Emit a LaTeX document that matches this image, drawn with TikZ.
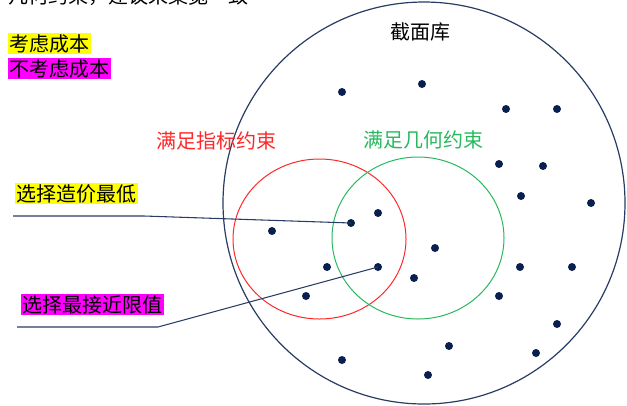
\documentclass[tikz,border=0pt]{standalone}
\usepackage{fontspec}
\setmainfont{Noto Sans CJK SC}
\usepackage{tikz}

\definecolor{navy}{RGB}{40,60,100}
\definecolor{dotblue}{RGB}{8,32,80}
\definecolor{consred}{RGB}{255,40,40}
\definecolor{consgreen}{RGB}{40,185,95}
\definecolor{hlyellow}{RGB}{255,255,0}
\definecolor{hlmagenta}{RGB}{255,0,255}

\begin{document}
\begin{tikzpicture}[x=0.75pt,y=0.75pt,yscale=-1,xscale=1,
  dot/.style={circle,fill=dotblue,inner sep=0pt,minimum size=6pt},
  lbl/.style={inner sep=0.9pt,font=\fontsize{15}{18}\selectfont},
  leader/.style={draw=navy,line width=0.8pt}]
\useasboundingbox (0,0) rectangle (627,405);

%Shape: Circle [library]
\draw [navy,line width=0.9pt] (424,203) ellipse [x radius=201,y radius=201];
%Shape: Ellipse [index constraint]
\draw [consred,line width=0.75pt] (319.5,239) ellipse [x radius=86.5,y radius=80];
%Shape: Ellipse [geometry constraint]
\draw [consgreen,line width=0.75pt] (418,238) ellipse [x radius=86,y radius=81];

%Dots
\node [dot] (d1) at (342,92) {};
\node [dot] (d2) at (422,84) {};
\node [dot] (d3) at (506,109) {};
\node [dot] (d4) at (557,109) {};
\node [dot] (d5) at (499,164) {};
\node [dot] (d6) at (543,166) {};
\node [dot] (d7) at (521,196) {};
\node [dot] (d8) at (591,203) {};
\node [dot] (d9) at (272,231) {};
\node [dot] (best) at (351,223) {};
\node [dot] (d11) at (378,213) {};
\node [dot] (d12) at (435,248) {};
\node [dot] (d13) at (327,267) {};
\node [dot] (nearest) at (378,267) {};
\node [dot] (d15) at (414,278) {};
\node [dot] (d16) at (306,296) {};
\node [dot] (d17) at (520,267) {};
\node [dot] (d18) at (572,267) {};
\node [dot] (d19) at (499,296) {};
\node [dot] (d20) at (557,324) {};
\node [dot] (d21) at (449,346) {};
\node [dot] (d22) at (536,353) {};
\node [dot] (d23) at (342,360) {};
\node [dot] (d24) at (428,375) {};

% Text Node
\node [lbl,anchor=south west,inner sep=0pt] (cut) at (8,6) {几何约束，建议采集宽一致};
% Text Node
\node [lbl,fill=hlyellow,anchor=north west] (cost) at (8,33) {考虑成本};
% Text Node
\node [lbl,fill=hlmagenta,anchor=north west] (nocost) at (8,58) {不考虑成本};
% Text Node
\node [lbl] (lib) at (420,32) {截面库};
% Text Node
\node [lbl,text=consred] (idx) at (216,141) {满足指标约束};
% Text Node
\node [lbl,text=consgreen] (geo) at (423,140) {满足几何约束};
% Text Node
\node [lbl,fill=hlyellow,anchor=north west] (lowcost) at (15,183) {选择造价最低};
% Text Node
\node [lbl,fill=hlmagenta,anchor=north west] (nearlim) at (21,294) {选择最接近限值};

%Straight Lines
\coordinate (lowcost-a) at (13,216);
\coordinate (lowcost-b) at (144,216);
\draw [leader] (lowcost-a) -- (lowcost-b) -- (best.center);
%Straight Lines
\coordinate (nearlim-a) at (17,327);
\coordinate (nearlim-b) at (158,327);
\draw [leader] (nearlim-a) -- (nearlim-b) -- (nearest.center);

\end{tikzpicture}
\end{document}
